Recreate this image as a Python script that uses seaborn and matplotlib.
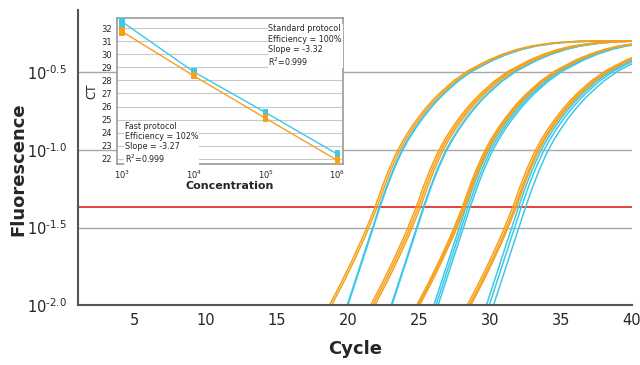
import numpy as np
import pandas as pd
import matplotlib
matplotlib.use('Agg')
import matplotlib.pyplot as plt
import seaborn as sns

sns.set_style('white')
plt.rcParams['font.family'] = ['DejaVu Sans']

# ---- amplification curves ----
# curve shape: cycles relative to threshold crossing, log10 fluorescence
upper_offsets = [0.0, 0.5, 1.0, 1.5, 2.0, 2.5, 3.0, 3.5, 4.0, 4.5, 5.5, 6.5, 8.0, 9.0,
                 10.0, 11.0, 12.5, 14.0, 16.0, 19.0]
upper_logf = [-1.37, -1.24, -1.1225, -1.02, -0.935, -0.8625, -0.7975, -0.739, -0.686, -0.639,
              -0.557, -0.492, -0.42, -0.382, -0.352, -0.33, -0.31, -0.301, -0.297, -0.297]
cyan_low_offsets = [-4.0, -3.0, -2.25, -1.6, -1.0, -0.5]
cyan_low_logf = [-2.49, -2.21, -2.0, -1.818, -1.65, -1.51]
orange_low_offsets = [-4.6, -3.2, -2.4, -1.6, -0.8, -0.4]
orange_low_logf = [-2.24, -2.0, -1.86, -1.71, -1.55, -1.46]

# threshold cycles of each replicate
ct_standard = [22.2, 22.25, 25.3, 25.35, 28.3, 28.45, 28.6, 32.0, 32.2, 32.5]
ct_fast = [21.9, 22.05, 24.8, 24.95, 25.1, 28.05, 28.15, 28.25, 31.6, 31.75, 31.85]

threshold_log = -1.37

# ---- standard curve inset ----
conc = [1e3, 1e3, 1e3, 1e4, 1e4, 1e5, 1e5, 1e6, 1e6]
ct_inset_standard = [32.35, 32.5, 32.65, 28.56, 28.76, 25.5, 25.58, 22.25, 22.45]
ct_inset_fast = [31.6, 31.75, 31.9, 28.3, 28.4, 25.0, 25.2, 21.75, 22.0]

col_cyan = '#3cc8e8'
col_orange = '#f5a11e'

cyan_off = cyan_low_offsets + upper_offsets
cyan_val = cyan_low_logf + upper_logf
orange_off = orange_low_offsets + upper_offsets
orange_val = orange_low_logf + upper_logf

rows = []
for i, ct in enumerate(ct_standard):
    for o, v in zip(cyan_off, cyan_val):
        rows.append(('s%d' % i, 'Standard', ct + o, 10 ** v))
for i, ct in enumerate(ct_fast):
    for o, v in zip(orange_off, orange_val):
        rows.append(('f%d' % i, 'Fast', ct + o, 10 ** v))
df = pd.DataFrame(rows, columns=['curve', 'protocol', 'cycle', 'fluor'])

fig = plt.figure(figsize=(6.4, 3.65), dpi=100)
ax = fig.add_axes([0.122, 0.164, 0.8655, 0.809])

ax.set_yscale('log')
for t in [10 ** -0.5, 10 ** -1.0, 10 ** -1.5]:
    ax.axhline(t, color='#a8a8a8', lw=1, zorder=0)
ax.axhline(10 ** threshold_log, color='#e02020', lw=1.2, zorder=1)

sns.lineplot(data=df, x='cycle', y='fluor', hue='protocol', units='curve',
             estimator=None, palette={'Standard': col_cyan, 'Fast': col_orange},
             lw=1.1, legend=False, ax=ax, zorder=2)

ax.set_xlim(1, 40)
ax.set_ylim(10 ** -2.0, 10 ** -0.097)
ax.set_xticks([5, 10, 15, 20, 25, 30, 35, 40])
yt = [10 ** -2.0, 10 ** -1.5, 10 ** -1.0, 10 ** -0.5]
ax.yaxis.set_minor_locator(matplotlib.ticker.NullLocator())
ax.set_yticks(yt)
ax.set_yticklabels([r'$10^{\text{-}2.0}$', r'$10^{\text{-}1.5}$',
                    r'$10^{\text{-}1.0}$', r'$10^{\text{-}0.5}$'])
ax.tick_params(axis='x', length=0, labelsize=10.5, pad=6)
ax.tick_params(axis='y', length=6, color='#a8a8a8', labelsize=10.5, pad=2)
for s in ['top', 'right']:
    ax.spines[s].set_visible(False)
for s in ['left', 'bottom']:
    ax.spines[s].set_color('#555555')
    ax.spines[s].set_linewidth(1.5)
ax.set_xlabel('Cycle', fontsize=13, fontweight='bold', labelpad=8)
ax.set_ylabel('Fluorescence', fontsize=13, fontweight='bold')
ax.yaxis.set_label_coords(-0.092, 0.46)

# inset
ins = fig.add_axes([0.183, 0.551, 0.353, 0.40])
ins.set_facecolor('white')
ins.set_xscale('log')
for v in range(22, 33):
    ins.axhline(v, color='#c8c8c8', lw=0.8, zorder=0)
dfi = pd.DataFrame({'conc': conc * 2,
                    'ct': ct_inset_standard + ct_inset_fast,
                    'protocol': ['Standard'] * len(conc) + ['Fast'] * len(conc)})
sns.lineplot(data=dfi, x='conc', y='ct', hue='protocol', errorbar=None,
             palette={'Standard': col_cyan, 'Fast': col_orange}, lw=1,
             legend=False, ax=ins, zorder=2)
sns.scatterplot(data=dfi, x='conc', y='ct', hue='protocol', marker='s', s=16,
                palette={'Standard': col_cyan, 'Fast': col_orange}, linewidth=0,
                legend=False, ax=ins, zorder=3)
ins.set_xlim(10 ** 2.93, 10 ** 6.08)
ins.set_ylim(21.6, 32.8)
ins.set_yticks(range(22, 33))
ins.set_xticks([1e3, 1e4, 1e5, 1e6])
ins.xaxis.set_minor_locator(matplotlib.ticker.NullLocator())
ins.tick_params(axis='both', labelsize=6, length=2, color='#999999', pad=1.5)
for s in ins.spines.values():
    s.set_color('#999999')
    s.set_linewidth(1.2)
ins.set_xlabel('Concentration', fontsize=8, fontweight='bold', labelpad=0)
ins.set_ylabel('CT', fontsize=8.5, labelpad=2)

box = dict(facecolor='white', edgecolor='none', pad=0.5)
ins.text(0.67, 0.955, 'Standard protocol\nEfficiency = 100%\nSlope = -3.32\nR$^2$=0.999',
         transform=ins.transAxes, fontsize=5.8, va='top', ha='left', linespacing=1.15,
         bbox=box, zorder=4)
ins.text(0.035, 0.29, 'Fast protocol\nEfficiency = 102%\nSlope = -3.27\nR$^2$=0.999',
         transform=ins.transAxes, fontsize=5.8, va='top', ha='left', linespacing=1.15,
         bbox=box, zorder=4)

fig.savefig('out.png', dpi=100)
